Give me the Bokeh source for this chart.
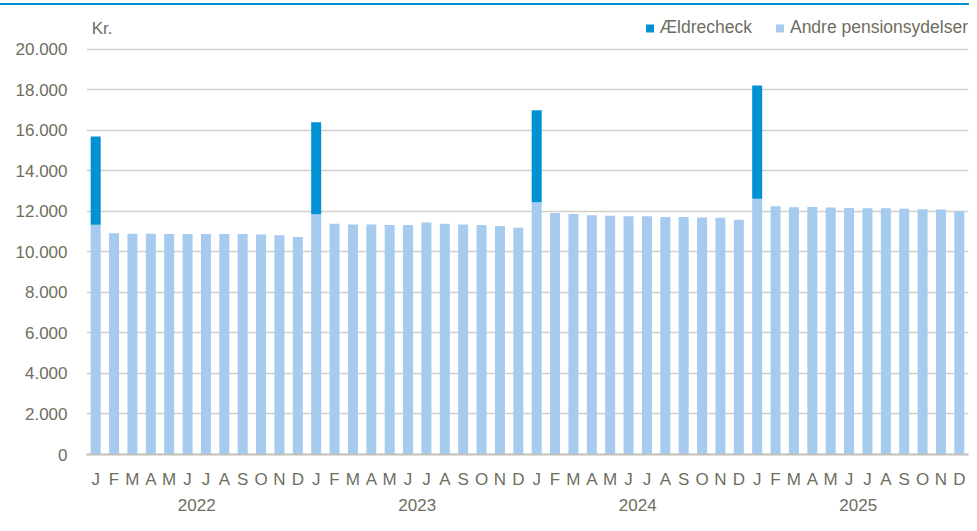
from bokeh.plotting import figure
from bokeh.models import (Range1d, LinearAxis, FixedTicker, Legend, LegendItem,
                          Label, ColumnDataSource)
from bokeh.embed import file_html
from bokeh.resources import INLINE

# ---------------- data ----------------
years = ["2022", "2023", "2024", "2025"]
month_letters = ["J", "F", "M", "A", "M", "J", "J", "A", "S", "O", "N", "D"]

andre = [
    11330, 10920, 10885, 10885, 10880, 10880, 10880, 10880, 10880, 10850, 10820, 10735,
    11850, 11385, 11350, 11350, 11320, 11320, 11450, 11385, 11350, 11320, 11270, 11185,
    12440, 11920, 11870, 11800, 11785, 11750, 11750, 11720, 11720, 11690, 11680, 11580,
    12620, 12245, 12195, 12215, 12180, 12165, 12150, 12150, 12130, 12100, 12085, 12010,
]
aeldre = [
    4360, 0, 0, 0, 0, 0, 0, 0, 0, 0, 0, 0,
    4540, 0, 0, 0, 0, 0, 0, 0, 0, 0, 0, 0,
    4545, 0, 0, 0, 0, 0, 0, 0, 0, 0, 0, 0,
    5590, 0, 0, 0, 0, 0, 0, 0, 0, 0, 0, 0,
]
y_ticks = [0, 2000, 4000, 6000, 8000, 10000, 12000, 14000, 16000, 18000, 20000]

series_names = ["Andre pensionsydelser", "Ældrecheck"]

# ---------------- styling ----------------
DARK = "#0091d5"
LIGHT = "#a6cbee"
TEXT = "#6e6e60"
GRID = "#d0d0c8"
FONT = "Liberation Sans"

W, H = 969, 515

n = len(andre)
xs = list(range(n))
month_labels = [month_letters[i % 12] for i in xs]
src = ColumnDataSource(dict(x=xs, andre=andre, aeldre=aeldre))

p = figure(width=W, height=H, output_backend="svg", toolbar_location=None,
           x_range=Range1d(-0.5, n - 0.5), y_range=Range1d(0, 21560),
           x_axis_type=None,
           min_border_left=86, min_border_right=1, min_border_top=17,
           min_border_bottom=61)
p.outline_line_color = None
p.background_fill_color = "white"
p.border_fill_alpha = 0
# thin blue rule across the very top of the chart (drawn behind the transparent border)
p.styles = {"background": "linear-gradient(to bottom, #ffffff 0px, #ffffff 3px, "
                          "#0091d5 3px, #0091d5 5.5px, #ffffff 5.5px)"}

rs = p.vbar_stack(["andre", "aeldre"], x="x", width=0.545, source=src,
                  color=[LIGHT, DARK], line_color=None)

# y axis
yax = p.yaxis[0]
yax.ticker = FixedTicker(ticks=y_ticks)
yax.major_label_overrides = {t: f"{t:,}".replace(",", ".") for t in y_ticks}
yax.axis_line_color = None
yax.major_tick_line_color = None
yax.minor_tick_line_color = None
yax.major_tick_out = 0
yax.major_label_text_font = FONT
yax.major_label_text_font_size = "17px"
yax.major_label_text_color = TEXT
yax.major_label_standoff = 19

p.ygrid.ticker = FixedTicker(ticks=y_ticks)
p.ygrid.grid_line_color = GRID
p.ygrid.grid_line_width = 1.5

# month axis
max_ = LinearAxis(ticker=FixedTicker(ticks=xs),
                  major_label_overrides={i: m for i, m in zip(xs, month_labels)})
max_.axis_line_color = "#c0c0b8"
max_.axis_line_width = 2
max_.major_tick_line_color = None
max_.minor_tick_line_color = None
max_.major_tick_out = 0
max_.major_label_text_font = FONT
max_.major_label_text_font_size = "17px"
max_.major_label_text_color = TEXT
max_.major_label_standoff = 15
p.add_layout(max_, "below")

# year axis
year_pos = [i * 12 + 5.5 for i in range(len(years))]
yr = LinearAxis(ticker=FixedTicker(ticks=year_pos),
                major_label_overrides={pos: y for pos, y in zip(year_pos, years)})
yr.axis_line_color = None
yr.major_tick_line_color = None
yr.minor_tick_line_color = None
yr.major_tick_out = 0
yr.major_label_text_font = FONT
yr.major_label_text_font_size = "17px"
yr.major_label_text_color = TEXT
yr.major_label_standoff = 7
p.add_layout(yr, "below")

# legend
legend = Legend(items=[LegendItem(label=series_names[1], renderers=[rs[1]]),
                       LegendItem(label=series_names[0], renderers=[rs[0]])],
                location="top_right", orientation="horizontal",
                background_fill_alpha=0, border_line_color=None,
                label_text_color=TEXT, label_text_font=FONT,
                label_text_font_size="17.5px",
                glyph_width=10, glyph_height=10, label_standoff=5,
                spacing=23, margin=0, padding=0)
p.add_layout(legend)

# "Kr." unit label
p.add_layout(Label(x=-0.22, y=21000, text="Kr.", text_baseline="middle",
                   text_font=FONT, text_font_size="17px", text_color=TEXT))

with open("out.html", "w") as f:
    f.write(file_html(p, INLINE))
